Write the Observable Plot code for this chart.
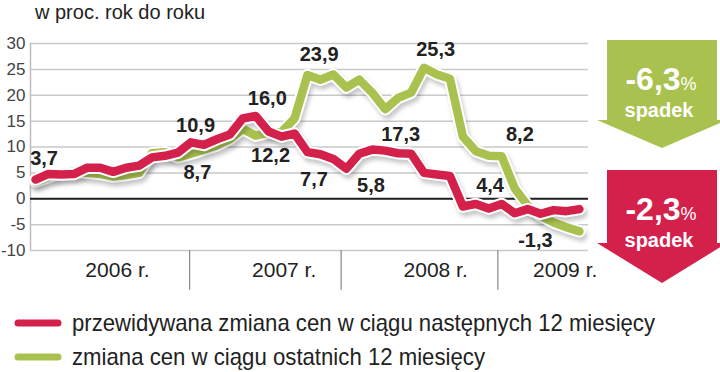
<!DOCTYPE html>
<html><head><meta charset="utf-8">
<script src="https://cdn.jsdelivr.net/npm/d3@7"></script>
<script src="https://cdn.jsdelivr.net/npm/@observablehq/plot@0.6"></script>
<style>
body{margin:0;background:#fff;}
#wrap{position:relative;width:720px;height:372px;overflow:hidden;font-family:"Liberation Sans",Arial,sans-serif;}
#title{position:absolute;left:35px;top:1px;font-size:20px;line-height:23px;color:#222;}
#chart{position:absolute;left:0;top:0;}
#extras{position:absolute;left:0;top:0;}
</style></head><body>
<div id="wrap"><div id="chart"></div><div id="title">w proc. rok do roku</div><svg id="extras" width="720" height="372"></svg></div>
<script>
// months Jan 2006 .. Jul 2009
const months = ["2006-01","2006-02","2006-03","2006-04","2006-05","2006-06","2006-07","2006-08","2006-09","2006-10","2006-11","2006-12",
"2007-01","2007-02","2007-03","2007-04","2007-05","2007-06","2007-07","2007-08","2007-09","2007-10","2007-11","2007-12",
"2008-01","2008-02","2008-03","2008-04","2008-05","2008-06","2008-07","2008-08","2008-09","2008-10","2008-11","2008-12",
"2009-01","2009-02","2009-03","2009-04","2009-05","2009-06","2009-07"];
// przewidywana zmiana cen w ciągu następnych 12 miesięcy
const expected = [3.7,4.8,4.7,4.8,6.0,6.0,5.2,6.0,6.4,8.0,8.3,8.9,
10.9,10.4,11.5,12.4,15.5,16.0,13.0,12.0,12.6,9.0,8.6,7.7,
5.8,8.7,9.5,9.3,8.8,8.7,5.0,4.7,4.4,-1.5,-1.0,-1.9,
-1.0,-2.8,-2.0,-2.9,-2.2,-2.4,-2.0];
// zmiana cen w ciągu ostatnich 12 miesięcy
const past = [3.3,4.2,5.0,5.2,5.0,4.8,4.3,4.6,5.0,8.8,9.0,8.0,
8.7,9.5,10.3,11.5,13.5,12.2,12.8,12.9,15.5,23.9,23.0,24.0,
21.5,23.0,20.5,17.3,19.5,20.5,25.3,24.0,23.2,12.0,9.2,8.3,
8.2,2.0,-1.3,-3.3,-4.6,-5.5,-6.3];
const yTicks = [-10,-5,0,5,10,15,20,25,30];
const yearText = ["2006 r.","2007 r.","2008 r.","2009 r."];
const yearPos = [6.33,19.2,30.9,40.9];
const yearBounds = [11.9,23.6,35.7];
const labelText = ["3,7","10,9","8,7","16,0","12,2","23,9","25,3","7,7","5,8","17,3","8,2","4,4","-1,3"];
const labelX = [0.66,12.36,12.5,17.9,18.15,21.9,30.9,21.5,25.9,28.2,37.4,35.1,38.6];
const labelY = [7.7,14.1,5.07,19.3,8.35,27.9,28.9,3.7,2.55,12.4,12.4,2.55,-8.1];
const legendText = ["przewidywana zmiana cen w ciągu następnych 12 miesięcy","zmiana cen w ciągu ostatnich 12 miesięcy"];
const arrowValues = ["-6,3","-2,3"];
const arrowWord = "spadek";

const RED = "#d4214c", GREEN = "#a9c24f";
const redData = months.map((m,i)=>({i, v: expected[i]}));
const greenData = months.map((m,i)=>({i, v: past[i]}));
const labels = labelText.map((t,k)=>({t, x: labelX[k], y: labelY[k]}));
const years = yearText.map((t,k)=>({t, x: yearPos[k]}));
const xDomain = [-0.386, 42.70];

function lineSet(data, color){
  return [
    Plot.line(data,{x:"i",y:"v",stroke:"#000",strokeOpacity:0.22,strokeWidth:12,dx:2,dy:4}),
    Plot.line(data,{x:"i",y:"v",stroke:"#fff",strokeWidth:12.5}),
    Plot.line(data,{x:"i",y:"v",stroke:color,strokeWidth:8.5})
  ];
}

const chart = Plot.plot({
  width:600, height:300,
  marginLeft:30, marginRight:12, marginTop:43, marginBottom:50,
  x:{domain:xDomain, axis:null},
  y:{domain:[-10,30], axis:null},
  style:{fontFamily:"'Liberation Sans',Arial,sans-serif", background:"transparent", overflow:"visible"},
  marks:[
    Plot.gridY(yTicks,{stroke:"#c9c9c9", strokeOpacity:1, strokeWidth:1.5}),
    Plot.axisY(yTicks,{anchor:"left", tickSize:0, tickPadding:5, fontSize:17, fill:"#444", tickFormat:d=>String(d), label:null}),
    Plot.ruleX([xDomain[0]],{y1:-10,y2:30,stroke:"#bdbdbd",strokeWidth:1.5}),
    Plot.ruleY([0],{stroke:"#222",strokeWidth:2}),
    Plot.ruleX(yearBounds,{y1:-10,y2:-17.7,stroke:"#888",strokeWidth:1.2}),
    Plot.text(years,{x:"x",y:-13.9,text:"t",fontSize:21,fill:"#222"}),
    ...lineSet(greenData, GREEN),
    ...lineSet(redData, RED),
    Plot.text(labels,{x:"x",y:"y",text:"t",fontSize:20,fontWeight:"bold",fill:"#222"})
  ]
});
document.getElementById("chart").appendChild(chart);
// soften the drop shadows
const cs = d3.select(chart);
cs.insert("defs",":first-child").append("filter").attr("id","soft").attr("x","-10%").attr("y","-10%").attr("width","120%").attr("height","130%")
  .append("feGaussianBlur").attr("stdDeviation",2);
const lineGroups = cs.selectAll("g[aria-label='line']").nodes();
[0,3].forEach(k=>{ if(lineGroups[k]) d3.select(lineGroups[k]).attr("filter","url(#soft)"); });

// legend + arrows
const svg = d3.select("#extras");
const legendColors = [RED, GREEN];
const legendY = [323, 357];
const legendLen = [583, 413];
legendText.forEach((t,k)=>{
  svg.append("line").attr("x1",18).attr("x2",58).attr("y1",legendY[k]).attr("y2",legendY[k])
    .attr("stroke",legendColors[k]).attr("stroke-width",7).attr("stroke-linecap","round");
  svg.append("text").attr("x",72).attr("y",legendY[k]+8).text(t)
    .attr("font-family","'Liberation Sans Narrow','Liberation Sans',sans-serif").attr("font-size",24).attr("fill","#222")
    .attr("textLength",legendLen[k]).attr("lengthAdjust","spacingAndGlyphs");
});
const arrows = [{top:40,wing:120,tip:148,color:GREEN},{top:170,wing:243,tip:283,color:RED}];
arrows.forEach((a,k)=>{
  const pts = [[607,a.top],[717,a.top],[717,a.wing],[727,a.wing],[662,a.tip],[597,a.wing],[607,a.wing]];
  svg.append("polygon").attr("points",pts.map(p=>p.join(",")).join(" ")).attr("fill",a.color);
  const t = svg.append("text").attr("x",661).attr("y",a.top+50).attr("text-anchor","middle")
    .attr("fill","#fff").attr("font-family","'Liberation Sans',Arial,sans-serif");
  t.append("tspan").attr("font-size",32).attr("font-weight","bold").text(arrowValues[k]);
  t.append("tspan").attr("font-size",18).text("%");
  svg.append("text").attr("x",659).attr("y",a.top+77).attr("text-anchor","middle").attr("fill","#fff")
    .attr("font-family","'Liberation Sans',Arial,sans-serif").attr("font-size",20).attr("font-weight","bold").text(arrowWord);
});
</script>
</body></html>
